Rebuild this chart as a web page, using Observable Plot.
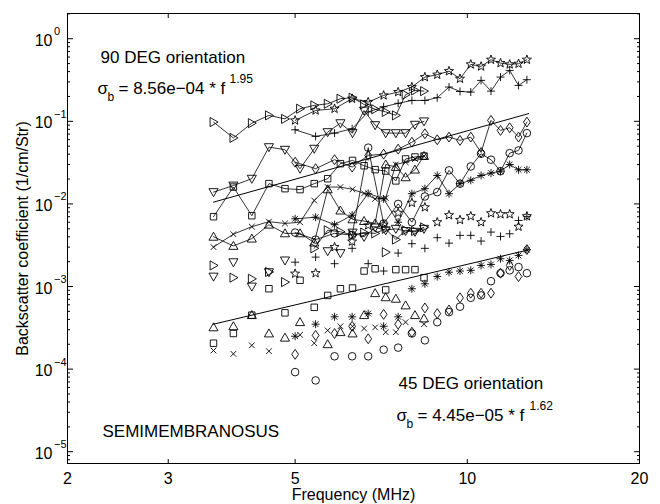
<!DOCTYPE html>
<html><head><meta charset="utf-8">
<script src="https://cdn.jsdelivr.net/npm/d3@7"></script>
<script src="https://cdn.jsdelivr.net/npm/@observablehq/plot@0.6"></script>
<style>body{margin:0;background:#fff} svg{display:block}</style>
</head><body><div id="chart"></div>
<script>
// ---- frequency grids (MHz) ----
const freqA = [3.6,3.9,4.2,4.5,4.8,5.1,5.4,5.7,6.0,6.3,6.6,6.9,7.2,7.5,7.8,8.1,8.4];
const freqB = [5.0,5.43,5.86,6.29,6.71,7.14,7.57,8.0,8.43,8.86,9.29,9.71,10.14,10.57,11.0,11.43,11.86,12.29,12.71];
const freqA2 = [5.4,5.7,6.0,6.3,6.6,6.9,7.2,7.5,7.8,8.1,8.4];
const freqA3 = [6.3,6.6,6.9,7.2,7.5,7.8,8.1,8.4];

// ---- 90 DEG orientation (connected), values in 1/cm/Str ----
const v90TriRight = [0.098,0.063,0.095,0.118,0.107,0.142,0.156,0.163,0.188,0.193,0.16,0.14,0.13,0.118,0.21,0.237,0.232];
const v90TriDown  = [0.0139,0.0167,0.0202,0.0487,0.0453,0.0267,0.0466,0.074,0.095,0.072,0.135,0.09,0.072,0.072,0.072,0.091,0.1];
const v90Square   = [0.0070,0.016,0.0072,0.0176,0.0153,0.0149,0.0176,0.0202,0.0307,0.0336,0.029,0.026,0.025,0.019,0.035,0.037,0.038];
const v90TriUp    = [0.0040,0.0031,0.0038,0.0056,0.0044,0.0044,0.0034,0.015,0.0083,0.0065,0.0062,0.0058,0.03,0.028,0.021,0.026,0.038];
const v90Times    = [0.003,0.0043,0.0053,0.0061,0.0058,0.006,0.011,0.016,0.016,0.015,0.0134,0.0115,0.0118,0.030,0.032,0.035,0.038];
const v90TriRight2 = [0.0029,0.0048,0.0046,0.0042,0.0045,0.0044,0.0050,0.0037,0.0048,0.0047,0.0052];
const v90TriDown2  = [0.0045,0.0040,0.0052,0.0048,0.0050,0.0047,0.0046,0.0050];
const v90Star     = [0.1026,0.1355,0.142,0.188,0.171,0.206,0.226,0.260,0.343,0.367,0.405,0.328,0.489,0.462,0.557,0.507,0.489,0.498,0.557];
const v90Plus     = [0.079,0.0657,0.072,0.0813,0.13,0.15,0.165,0.179,0.179,0.193,0.26,0.23,0.226,0.313,0.232,0.343,0.413,0.272,0.319];
const v90Diamond  = [0.032,0.0267,0.0343,0.0279,0.0387,0.040,0.046,0.0558,0.0707,0.0598,0.0644,0.0587,0.0644,0.042,0.1026,0.0776,0.0836,0.0644,0.0978];
const v90Circle   = [0.0045,0.0037,0.0044,0.0042,0.048,0.0058,0.010,0.006,0.0123,0.0139,0.0255,0.0176,0.0284,0.0405,0.0343,0.0249,0.0412,0.0444,0.072];
const v90Aster    = [0.0066,0.0069,0.0056,0.0073,0.0134,0.0115,0.006,0.0133,0.0153,0.0221,0.0133,0.0176,0.0193,0.0221,0.0236,0.0249,0.030,0.0259,0.0259];

// ---- 45 DEG orientation (markers only) ----
const f45TriRight = [3.6,3.9,4.2,4.5,4.8,7.2];
const v45TriRight = [0.0018,0.00128,0.00124,0.0015,0.00113,0.0026];
const f45TriDown  = [3.6,3.9,4.2,4.5,4.8,5.7,6.0];
const v45TriDown  = [0.00132,0.00197,0.001,0.00149,0.00207,0.00268,0.00254];
const f45Square   = [3.6,3.9,4.2,4.5,4.8,5.1,5.4,5.7,6.0,6.3,6.6,6.9,7.2,7.5,7.8,8.1,8.4];
const v45Square   = [0.000206,0.00027,0.00045,0.00094,0.00048,0.00119,0.00056,0.00078,0.00094,0.00096,0.00154,0.00164,0.00091,0.0016,0.0016,0.0016,0.00128];
const f45TriUp    = [3.6,3.9,4.2,4.5,4.8,5.1,5.7,6.0,6.3,6.6,6.9,7.2,7.5,7.8,8.1,8.4];
const v45TriUp    = [0.00032,0.00033,0.00045,0.00027,0.00024,0.00037,0.0002,0.00028,0.00027,0.00045,0.00083,0.00074,0.00071,0.00059,0.00045,0.00041];
const f45Times    = [3.6,3.9,4.2,4.5,5.1,5.4,5.7,6.0,6.3,6.6,6.9,7.2,7.5,7.8,8.4];
const v45Times    = [0.000168,0.000153,0.000194,0.000165,0.00026,0.000206,0.000294,0.00033,0.00033,0.00031,0.00032,0.00028,0.00028,0.00037,0.00035];
const v45Aster    = [0.00025,0.00035,0.00043,0.00043,0.00047,0.00033,0.00043,0.00094,0.00108,0.00132,0.00149,0.00154,0.00157,0.0018,0.00185,0.00217,0.00207,0.00238,0.00279];
const v45Circle   = [0.000092,0.000073,0.000143,0.000143,0.000143,0.000172,0.000182,0.00027,0.000223,0.00037,0.00049,0.00057,0.00073,0.00078,0.00116,0.00145,0.00157,0.00172,0.00145];
const v45Diamond  = [0.000151,0.000256,0.00027,0.00033,0.000233,0.00046,0.00035,0.00028,0.00055,0.00047,0.00052,0.00073,0.00083,0.00083,0.00083,0.00145,0.0018,0.00132,0.0028];
const v45Star     = [0.00143,0.00145,0.003,0.0035,0.0055,0.0056,0.0078,0.0103,0.0091,0.006,0.0073,0.0064,0.0071,0.006,0.0077,0.0075,0.0075,0.0053,0.0071];
const v45Plus     = [0.00197,0.00227,0.00189,0.0029,0.00189,0.00154,0.00254,0.0033,0.0029,0.0039,0.00335,0.00416,0.00416,0.00355,0.00456,0.00404,0.00435,0.0063,0.007];

// ---- power-law fits (end points of drawn lines) ----
const fitFreq = [3.6, 12.8];
const fit90 = [0.0105, 0.124];
const fit45 = [0.00035, 0.00278];

// ---- axes ----
const xTicks = [2,3,5,10,20];
const yExponents = [0,-1,-2,-3,-4,-5];

// ---------------------------------------------------------------
const R = (s) => Math.sqrt(s / Math.PI);
const symbols = {
  circle:  {draw(c,s){const r=R(s); c.moveTo(r,0); c.arc(0,0,r,0,2*Math.PI);}},
  square:  {draw(c,s){const r=R(s)*0.85; c.rect(-r,-r,2*r,2*r);}},
  diamond: {draw(c,s){const r=R(s); c.moveTo(0,-1.3*r); c.lineTo(0.9*r,0); c.lineTo(0,1.3*r); c.lineTo(-0.9*r,0); c.closePath();}},
  triUp:   {draw(c,s){const r=R(s)*1.2; c.moveTo(0,-r); c.lineTo(r,0.75*r); c.lineTo(-r,0.75*r); c.closePath();}},
  triDown: {draw(c,s){const r=R(s)*1.2; c.moveTo(0,r); c.lineTo(r,-0.75*r); c.lineTo(-r,-0.75*r); c.closePath();}},
  triRight:{draw(c,s){const r=R(s)*1.2; c.moveTo(r,0); c.lineTo(-0.75*r,-r); c.lineTo(-0.75*r,r); c.closePath();}},
  times:   {draw(c,s){const r=R(s)*0.75; c.moveTo(-r,-r); c.lineTo(r,r); c.moveTo(r,-r); c.lineTo(-r,r);}},
  plus:    {draw(c,s){const r=R(s)*1.05; c.moveTo(-r,0); c.lineTo(r,0); c.moveTo(0,-r); c.lineTo(0,r);}},
  aster:   {draw(c,s){const r=R(s)*1.05, q=r*0.72; c.moveTo(-r,0); c.lineTo(r,0); c.moveTo(0,-r); c.lineTo(0,r); c.moveTo(-q,-q); c.lineTo(q,q); c.moveTo(q,-q); c.lineTo(-q,q);}},
  star:    {draw(c,s){const ro=R(s)*1.25, ri=ro*0.42; for(let i=0;i<10;i++){const a=-Math.PI/2+i*Math.PI/5, rr=i%2?ri:ro; const px=rr*Math.cos(a), py=rr*Math.sin(a); if(i) c.lineTo(px,py); else c.moveTo(px,py);} c.closePath();}}
};

const series90 = [
  ["triRight", freqA, v90TriRight], ["triDown", freqA, v90TriDown], ["square", freqA, v90Square],
  ["triUp", freqA, v90TriUp], ["times", freqA, v90Times],
  ["triRight", freqA2, v90TriRight2], ["triDown", freqA3, v90TriDown2],
  ["star", freqB, v90Star], ["plus", freqB, v90Plus], ["diamond", freqB, v90Diamond],
  ["circle", freqB, v90Circle], ["aster", freqB, v90Aster]
];
const series45 = [
  ["triRight", f45TriRight, v45TriRight], ["triDown", f45TriDown, v45TriDown], ["square", f45Square, v45Square],
  ["triUp", f45TriUp, v45TriUp], ["times", f45Times, v45Times], ["aster", freqB, v45Aster],
  ["circle", freqB, v45Circle], ["diamond", freqB, v45Diamond], ["star", freqB, v45Star], ["plus", freqB, v45Plus]
];
const rows90 = series90.flatMap(([sym, fs, vs], k) => vs.map((v, i) => ({f: fs[i], v, sym, id: k})));
const rows45 = series45.flatMap(([sym, fs, vs]) => vs.map((v, i) => ({f: fs[i], v, sym})));
const allRows = rows90.concat(rows45);
const fitRows = [
  ...fitFreq.map((f, i) => ({f, v: fit90[i], id: "90"})),
  ...fitFreq.map((f, i) => ({f, v: fit45[i], id: "45"}))
];

const yMajor = yExponents.map(e => Math.pow(10, e));
const yMinor = [];
for (let e = -6; e <= 0; e++) for (let m = 2; m <= 9; m++) { const v = m * Math.pow(10, e); if (v > 7.2e-6 && v < 2.02) yMinor.push(v); }

const FONT = "Liberation Sans, Arial, Helvetica, sans-serif";
const blank = () => "";
const dotMarks = Object.keys(symbols).map(k => Plot.dot(allRows.filter(d => d.sym === k), {
  x: "f", y: "v", r: 3.8, symbol: symbols[k], fill: "none", stroke: "black", strokeWidth: 0.9
}));
const TL = {frameAnchor: "top-left", textAnchor: "start", lineAnchor: "middle"};

const chart = Plot.plot({
  width: 660, height: 504,
  marginLeft: 67, marginRight: 21, marginTop: 13, marginBottom: 41,
  style: {fontFamily: FONT, fontSize: "16px", color: "black", background: "white"},
  x: {type: "log", domain: [2, 20]},
  y: {type: "log", domain: [7.2e-6, 2.02]},
  marks: [
    // ticks (inward)
    Plot.axisX({anchor: "bottom", ticks: xTicks, tickSize: -4, tickFormat: blank, label: null}),
    Plot.axisX({anchor: "top", ticks: xTicks, tickSize: -4, tickFormat: blank, label: null}),
    Plot.axisX({anchor: "bottom", ticks: xTicks, tickSize: 0, tickPadding: 9, tickFormat: d => String(d), label: null, fontSize: 16}),
    Plot.axisY({anchor: "left", ticks: yMajor, tickSize: -6, tickFormat: blank, label: null}),
    Plot.axisY({anchor: "right", ticks: yMajor, tickSize: -6, tickFormat: blank, label: null}),
    Plot.axisY({anchor: "left", ticks: yMinor, tickSize: -3, tickFormat: blank, label: null}),
    Plot.axisY({anchor: "right", ticks: yMinor, tickSize: -3, tickFormat: blank, label: null}),
    // y tick labels 10^n
    Plot.text(yMajor, {x: 2, y: d => d, text: () => "10", textAnchor: "end", dx: -15, dy: 2, fontSize: 16}),
    Plot.text(yExponents, {x: 2, y: e => Math.pow(10, e), text: e => (e < 0 ? "\u2212" : "") + Math.abs(e), textAnchor: "start", dx: -13.5, dy: -7, fontSize: 11}),
    // axis labels
    Plot.text(["Backscatter coefficient (1/cm/Str)"], {frameAnchor: "left", dx: -45, rotate: -90, textAnchor: "middle", lineAnchor: "middle", fontSize: 16}),
    Plot.text(["Frequency (MHz)"], {frameAnchor: "bottom", dy: 31, textAnchor: "middle", lineAnchor: "middle", fontSize: 16}),
    // fits
    Plot.line(fitRows, {x: "f", y: "v", z: "id", stroke: "black", strokeWidth: 1}),
    // 90 deg connecting lines
    Plot.line(rows90, {x: "f", y: "v", z: "id", stroke: "black", strokeWidth: 0.8}),
    ...dotMarks,
    // annotations
    Plot.text(["90 DEG orientation"], {...TL, dx: 33, dy: 44, fontSize: 17}),
    Plot.text(["\u03c3"], {...TL, dx: 30, dy: 75, fontSize: 17}),
    Plot.text(["b"], {...TL, dx: 40, dy: 84, fontSize: 12}),
    Plot.text(["= 8.56e\u221204 * f"], {...TL, dx: 51, dy: 75, fontSize: 17}),
    Plot.text(["1.95"], {...TL, dx: 162, dy: 66, fontSize: 12}),
    Plot.text(["45 DEG orientation"], {...TL, dx: 331, dy: 370, fontSize: 17}),
    Plot.text(["\u03c3"], {...TL, dx: 329, dy: 402, fontSize: 17}),
    Plot.text(["b"], {...TL, dx: 339, dy: 411, fontSize: 12}),
    Plot.text(["= 4.45e\u221205 * f"], {...TL, dx: 350, dy: 402, fontSize: 17}),
    Plot.text(["1.62"], {...TL, dx: 462, dy: 393, fontSize: 12}),
    Plot.text(["SEMIMEMBRANOSUS"], {...TL, dx: 35, dy: 418, fontSize: 17}),
    Plot.frame({stroke: "black", strokeWidth: 1})
  ]
});
document.getElementById("chart").append(chart);
</script></body></html>
